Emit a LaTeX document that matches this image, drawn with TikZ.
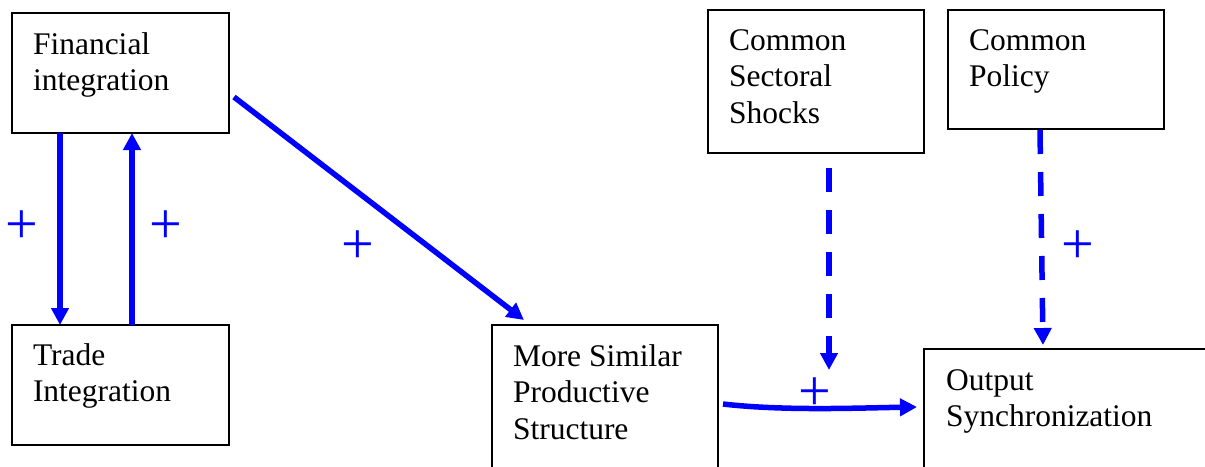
\documentclass[tikz,border=0pt]{standalone}
\usepackage{fontspec}
\setmainfont{Liberation Serif}
\usetikzlibrary{arrows.meta,calc}
\newcommand\dgfont{\fontsize{31.5}{36.5}\selectfont}
\newcommand\plusfont{\fontsize{58}{58}\selectfont}
\begin{document}
\begin{tikzpicture}[x=1pt,y=-1pt,
  box/.style={draw=black,line width=1.3pt,rectangle,inner sep=0pt,outer sep=0pt},
  lbl/.style={inner sep=0pt,outer sep=0pt,anchor=base west,font=\dgfont},
  plus/.style={inner sep=0pt,outer sep=0pt,text=blue,font=\plusfont},
  link/.style={draw=blue,line width=5.5pt,-{Triangle[width=17pt,length=17pt]}},
  dlink/.style={link,dash pattern=on 24pt off 18pt}]
\useasboundingbox (0,0) rectangle (1205,466);
% boxes
\node[box,minimum width=217pt,minimum height=120pt] (fin) at (120.5,73) {};
\node[box,minimum width=217pt,minimum height=120pt] (trade) at (120.5,385) {};
\node[box,minimum width=216pt,minimum height=143pt] (sec) at (816,81.5) {};
\node[box,minimum width=216pt,minimum height=119pt] (pol) at (1056,69.5) {};
\node[box,minimum width=226pt,minimum height=155pt] (sim) at (605,402.5) {};
\node[box,minimum width=306pt,minimum height=141pt] (out) at (1077,419.5) {};
% labels
\node[lbl] (finT) at (33,54) {\vtop{\hbox{Financial}\hbox{integration}}};
\node[lbl] (tradeT) at (33,365) {\vtop{\hbox{Trade}\hbox{Integration}}};
\node[lbl] (secT) at (729,50) {\vtop{\hbox{Common}\hbox{Sectoral}\hbox{Shocks}}};
\node[lbl] (polT) at (969,50) {\vtop{\hbox{Common}\hbox{Policy}}};
\node[lbl] (simT) at (513,366) {\vtop{\hbox{More Similar}\hbox{Productive}\hbox{Structure}}};
\node[lbl] (outT) at (946,390) {\vtop{\hbox{Output}\hbox{Synchronization}}};
% connectors
\draw[link] ([xshift=-60.5pt]fin.south) -- ([xshift=-60.5pt]trade.north);
\draw[link] ([xshift=11.5pt]trade.north) -- ([xshift=11.5pt]fin.south);
\draw[link] ([xshift=5pt,yshift=-24pt]fin.east) -- ([xshift=-81pt,yshift=5pt]sim.north);
\coordinate (secend) at (829,370);
\draw[dlink] ([xshift=13pt,yshift=-15pt]sec.south) -- (secend);
\draw[dlink] ([xshift=-16pt,yshift=-1pt]pol.south) -- ([xshift=-34pt,yshift=4pt]out.north);
\draw[link] ([xshift=5pt,yshift=-1.5pt]sim.east) .. controls +(60,7) and +(-60,1) .. ([xshift=-7pt,yshift=12.5pt]out.west);
% plus signs
\node[plus] (p1) at (22,227) {+};
\node[plus] (p2) at (166,227) {+};
\node[plus] (p3) at (358,247) {+};
\node[plus] (p4) at (1078,247) {+};
\node[plus] (p5) at (815,394) {+};
\end{tikzpicture}
\end{document}
